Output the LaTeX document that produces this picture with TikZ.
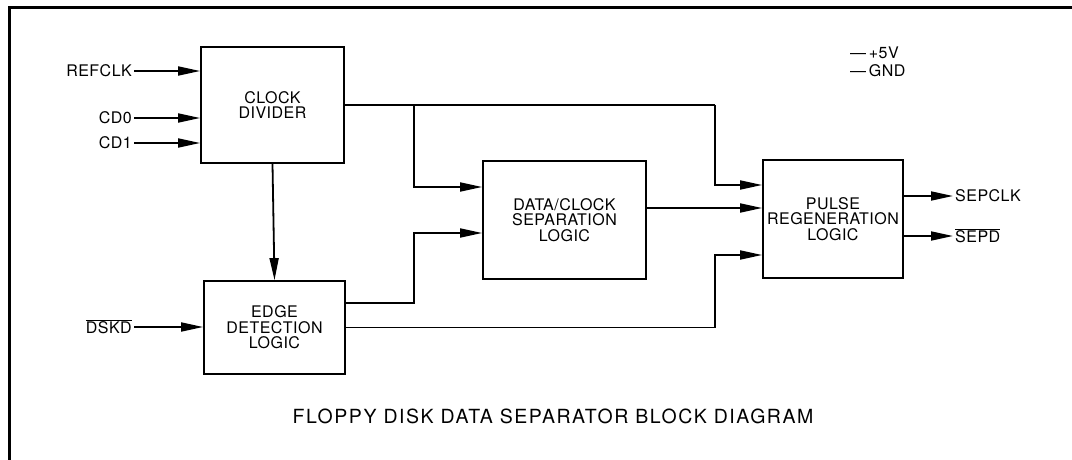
\documentclass[tikz,border=0pt]{standalone}
\usepackage{fontspec}
\setmainfont{TeX Gyre Heros}
\newfontfamily\lblfont[LetterSpace=3]{TeX Gyre Heros}
\newfontfamily\ttlfont[LetterSpace=8]{TeX Gyre Heros}
\usetikzlibrary{arrows.meta}
\begin{document}
\begin{tikzpicture}[x=1pt,y=-1pt,
  lbl/.style={font=\lblfont\fontsize{16}{15}\selectfont, inner sep=2pt},
  blk/.style={draw, line width=1.8pt, align=center, font=\lblfont\fontsize{16}{15.5}\selectfont},
  conn/.style={line width=1.8pt},
  arr/.style={line width=1.8pt, -{Triangle[length=22pt,width=9pt]}},
  frame/.style={line width=3pt}
]
\useasboundingbox (0,0) rectangle (1072,460);
\draw[frame] (9,460) -- (9,8) -- (1072,8);

% blocks
\node[blk, minimum width=143pt, minimum height=116pt] (cd) at (272.5,105) {CLOCK\\DIVIDER};
\node[blk, minimum width=141pt, minimum height=93pt] (edl) at (274.5,327.5) {EDGE\\DETECTION\\LOGIC};
\node[blk, minimum width=163pt, minimum height=118pt] (dcs) at (564.5,220) {DATA/CLOCK\\SEPARATION\\LOGIC};
\node[blk, minimum width=140pt, minimum height=118pt] (prl) at (833,219) {PULSE\\REGENERATION\\LOGIC};

% input labels
\node[lbl, anchor=east] (refclk) at (134,71) {REFCLK};
\node[lbl, anchor=east] (cd0) at (134,118) {CD0};
\node[lbl, anchor=east] (cd1) at (134,143) {CD1};
\node[lbl, anchor=east] (dskd) at (134,327) {$\overline{\mbox{DSKD}}$};

% output labels
\node[lbl, anchor=west] (sepclk) at (953,196) {SEPCLK};
\node[lbl, anchor=west] (sepd) at (953,236) {$\overline{\mbox{SEPD}}$};

% supply labels
\node[lbl, anchor=west] (vcc) at (848,53) {—\,+5V};
\node[lbl, anchor=west] (gnd) at (848,71) {—\,GND};

% title
\node[font=\ttlfont\fontsize{19.5}{22}\selectfont, anchor=base] (title) at (553,423) {FLOPPY DISK DATA SEPARATOR BLOCK DIAGRAM};

% inputs
\draw[arr] (refclk.east) -- (refclk.east -| cd.west);
\draw[arr] (cd0.east) -- (cd0.east -| cd.west);
\draw[arr] (cd1.east) -- (cd1.east -| cd.west);
\draw[arr] (dskd.east) -- (dskd.east -| edl.west);

% junctions
\coordinate (j1) at (414,105);
\coordinate (j2) at (715,105);
\coordinate (j3) at (414,303);
\coordinate (j4) at (715,327.5);

% clock divider outputs
\draw[conn] (cd.east) -- (j2);
\draw[arr] (j1) |- ([yshift=33pt]dcs.west);
\draw[arr] (j2) |- ([yshift=34pt]prl.west);
\draw[arr] (cd.south) -- (edl.north);

% edge detection outputs
\draw[arr] ([yshift=24.5pt]edl.east) -| (j3) |- ([yshift=-13pt]dcs.west);
\draw[arr] (edl.east) -- (j4) |- ([yshift=-36pt]prl.west);

% data/clock separation to pulse regeneration
\draw[arr] ([yshift=12pt]dcs.east) -- ([yshift=12pt]dcs.east -| prl.west);

% outputs
\draw[arr] ([yshift=23pt]prl.east) -- (sepclk.west);
\draw[arr] ([yshift=-17pt]prl.east) -- (sepd.west);
\end{tikzpicture}
\end{document}
